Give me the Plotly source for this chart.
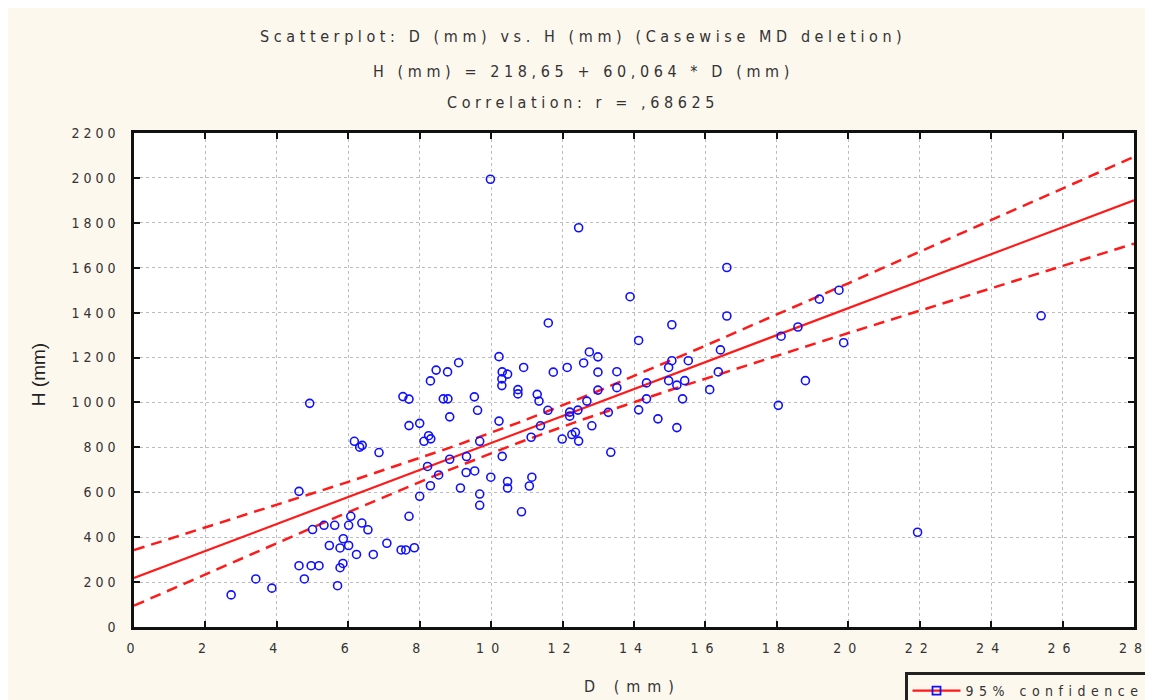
import numpy as np
import plotly.graph_objects as go

# ---------------- data ----------------
d_mm = [2.72, 3.41, 3.86, 4.62, 4.62, 4.77, 4.92, 4.96, 5.18, 5.00,
        5.32, 5.62, 6.01, 6.07, 6.38, 6.55, 5.86, 5.47, 5.77, 6.01,
        6.23, 6.70, 7.08, 7.48, 7.61, 7.85, 7.70, 8.00, 5.85, 5.77,
        5.70, 6.17, 6.39, 6.32, 6.86, 8.12, 8.22, 8.25, 8.31, 8.30,
        7.53, 7.70, 7.70, 8.00, 8.30, 8.46, 8.78, 9.09, 8.66, 8.79,
        8.84, 8.53, 8.84, 9.14, 9.31, 9.30, 9.54, 9.53, 9.62, 9.68,
        9.68, 9.68, 9.98, 9.99, 10.22, 10.22, 10.31, 10.46, 10.30, 10.30,
        10.31, 10.46, 10.46, 10.85, 10.91, 10.75, 10.75, 11.07, 11.14, 11.12,
        11.29, 11.34, 11.38, 11.59, 11.60, 11.74, 11.99, 12.13, 12.20, 12.20,
        12.26, 12.36, 12.43, 12.45, 12.45, 12.59, 12.68, 12.75, 12.82, 12.99,
        12.99, 12.99, 13.28, 13.35, 13.52, 13.52, 13.89, 14.13, 14.13, 14.35,
        14.35, 14.67, 14.97, 14.97, 15.06, 15.06, 15.20, 15.20, 15.42, 15.36,
        15.52, 16.12, 16.36, 16.42, 16.60, 16.60, 18.04, 18.12, 18.59, 18.80,
        19.19, 19.74, 19.87, 21.94, 25.40]
h_mm = [143, 214, 173, 604, 273, 214, 996, 273, 273, 434,
        453, 453, 453, 493, 463, 433, 393, 363, 352, 363,
        323, 323, 373, 343, 343, 353, 493, 582, 283, 264,
        184, 827, 809, 801, 777, 827, 715, 852, 838, 629,
        1026, 1015, 897, 907, 1096, 1144, 1136, 1177, 1016, 1016,
        936, 677, 747, 619, 759, 688, 695, 1025, 965, 827,
        592, 542, 1994, 667, 1204, 917, 1136, 1126, 1105, 1075,
        760, 648, 619, 513, 1156, 1057, 1038, 628, 667, 845,
        1036, 1006, 896, 965, 1354, 1135, 837, 1156, 957, 939,
        857, 867, 966, 828, 1778, 1176, 1006, 1225, 896, 1203,
        1135, 1055, 956, 778, 1137, 1066, 1471, 1276, 967, 1087,
        1016, 927, 1156, 1097, 1346, 1186, 1077, 888, 1097, 1016,
        1186, 1057, 1136, 1234, 1601, 1385, 987, 1295, 1336, 1097,
        1460, 1500, 1266, 422, 1386]

INTERCEPT = 218.65     # from the reference's regression equation
SLOPE = 60.064
CONF_LABEL = "95% confidence"
x_ticks = [0, 2, 4, 6, 8, 10, 12, 14, 16, 18, 20, 22, 24, 26, 28]
y_ticks = [0, 200, 400, 600, 800, 1000, 1200, 1400, 1600, 1800, 2000, 2200]
title_lines = ["Scatterplot: D (mm) vs. H (mm) (Casewise MD deletion)",
               "H (mm) = 218,65 + 60,064 * D (mm)",
               "Correlation: r = ,68625"]
x_title = "D (mm)"
y_title = "H (mm)"

# ---------------- regression line and 95% band ----------------
d = np.array(d_mm, dtype=float)
h = np.array(h_mm, dtype=float)
n = len(d)
resid = h - (INTERCEPT + SLOPE * d)
s = np.sqrt(np.sum(resid ** 2) / (n - 2))
xbar = d.mean()
sxx = np.sum((d - xbar) ** 2)
t_crit = 1.977
xs = np.linspace(0, 28, 113)
fit = INTERCEPT + SLOPE * xs
half = t_crit * s * np.sqrt(1.0 / n + (xs - xbar) ** 2 / sxx)

CREAM = "#FCF8EE"
TXT = "#333333"
FONT = "DejaVu Sans Condensed, Liberation Sans Narrow, Liberation Sans, Arial, sans-serif"


def spaced(txt, px):
    return '<span style="letter-spacing:%.1fpx">%s</span>' % (px, txt)


fig = go.Figure()
for band in (fit + half, fit - half):
    fig.add_trace(go.Scatter(x=xs, y=band, mode="lines", showlegend=False,
                             line=dict(color="#FF1A1A", width=2.5, dash="11px,7px"),
                             hoverinfo="skip"))
fig.add_trace(go.Scatter(x=xs, y=fit, mode="lines", showlegend=False,
                         line=dict(color="#FF1A1A", width=2.2)))
fig.add_trace(go.Scatter(x=d_mm, y=h_mm, mode="markers", showlegend=False,
                         marker=dict(symbol="circle-open", size=8, color="#1010FF",
                                     line=dict(width=1.6, color="#1010FF"))))
# legend entry (line + marker symbol)
fig.add_trace(go.Scatter(x=[None], y=[None], mode="lines+markers",
                         name=spaced(CONF_LABEL, 5.5),
                         line=dict(color="#FF1A1A", width=2.2),
                         marker=dict(symbol="square-open", size=8, color="#1010FF",
                                     line=dict(width=1.8, color="#1010FF"))))

# page is drawn 8px in from the window corner (body margin)
OFF = 8
L, R, T, B = 126, 27, 125, 81.4
W, H = 1153, 700
pw = W - L - R
ph = H - T - B


def py_to_paper(py):
    return (H - B - (py - OFF)) / ph


def px_to_paper(px):
    return ((px - OFF) - L) / pw


for txt, py in zip(title_lines, [37, 72, 103]):
    fig.add_annotation(text=spaced(txt, 4.6), xref="paper", yref="paper",
                       x=px_to_paper(583), y=py_to_paper(py), showarrow=False,
                       xanchor="center", yanchor="middle",
                       font=dict(family=FONT, size=16, color=TXT))

fig.add_annotation(text=spaced(x_title, 7), xref="paper", yref="paper",
                   x=px_to_paper(632), y=py_to_paper(686), showarrow=False,
                   xanchor="center", yanchor="middle",
                   font=dict(family=FONT, size=16, color=TXT))
fig.add_annotation(text=y_title, xref="paper", yref="paper",
                   x=px_to_paper(38), y=py_to_paper(375), showarrow=False,
                   textangle=-90, xanchor="center", yanchor="middle",
                   font=dict(family="Liberation Sans, Arial, sans-serif", size=19, color="#222222"))

axis_common = dict(showline=True, linewidth=2.5, linecolor="#111111",
                   ticks="inside", ticklen=6, tickwidth=2, tickcolor="#111111",
                   showgrid=True, gridcolor="#BDBDBD", gridwidth=1, griddash="dot",
                   zeroline=False, tickfont=dict(family=FONT, size=14, color=TXT),
                   fixedrange=True)

fig.update_xaxes(range=[0, 28], tickmode="array", tickvals=x_ticks,
                 ticktext=[spaced(str(v), 7) for v in x_ticks],
                 mirror="ticks", ticklabelstandoff=6, **axis_common)
fig.update_yaxes(range=[0, 2200], tickmode="array", tickvals=y_ticks,
                 ticktext=[spaced(str(v), 4) for v in y_ticks],
                 mirror="ticks", ticklabelstandoff=9, **axis_common)

fig.update_layout(
    width=W, height=H,
    margin=dict(l=L, r=R, t=T, b=B, autoexpand=False),
    paper_bgcolor=CREAM, plot_bgcolor="white",
    showlegend=True,
    legend=dict(x=px_to_paper(905), y=py_to_paper(672), xanchor="left", yanchor="top",
                bgcolor=CREAM, bordercolor="#222222", borderwidth=2.5,
                font=dict(family=FONT, size=14, color=TXT),
                itemwidth=48),
    font=dict(family=FONT, color=TXT),
)

fig.write_html("out.html")
